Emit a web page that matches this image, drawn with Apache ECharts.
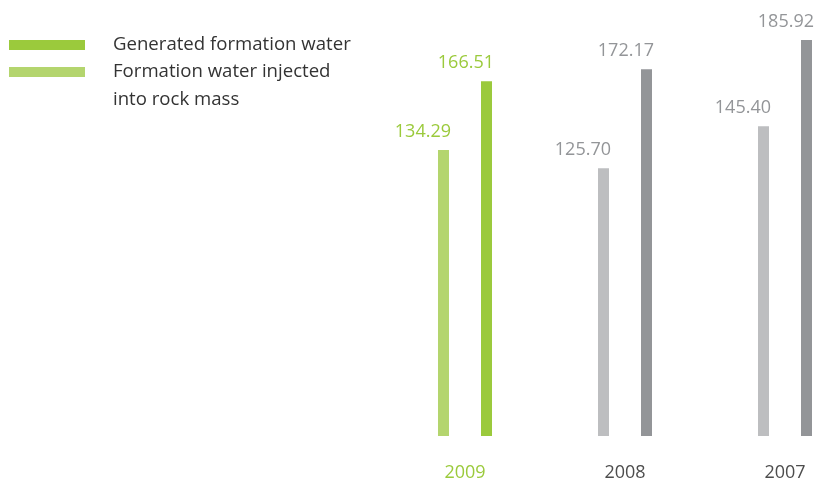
<!DOCTYPE html>
<html>
<head>
<meta charset="utf-8">
<script src="https://cdn.jsdelivr.net/npm/echarts@6/dist/echarts.min.js"></script>
<style>
  html, body { margin: 0; padding: 0; background: #ffffff; }
  #chart { width: 826px; height: 484px; }
</style>
</head>
<body>
<div id="chart"></div>
<script>
// Formation water volumes by year
const years = ['2009', '2008', '2007'];
const injected = [134.29, 125.70, 145.40];
const generated = [166.51, 172.17, 185.92];

const seriesNames = ['Generated formation water', 'Formation water injected\ninto rock mass'];

const GREEN = '#9bca3c';
const GREEN_LIGHT = '#b4d56e';
const GREY = '#939598';
const GREY_LIGHT = '#bdbec0';
const FONT = '"Open Sans", "Noto Sans", sans-serif';

// The current year is highlighted in green, earlier years in grey
function items(values, hiColor, loColor) {
  return values.map((v, i) => ({
    value: v,
    itemStyle: { color: i === 0 ? hiColor : loColor },
    label: { color: i === 0 ? GREEN : GREY }
  }));
}

const chart = echarts.init(document.getElementById('chart'), null, { renderer: 'canvas' });

const valueLabel = {
  show: true,
  position: ['100%', 0],
  align: 'right',
  verticalAlign: 'bottom',
  offset: [2, -9],
  fontFamily: FONT,
  fontSize: 18,
  formatter: p => p.value.toFixed(2)
};

const legendBase = {
  left: 9,
  padding: 0,
  orient: 'vertical',
  icon: 'rect',
  itemWidth: 76,
  itemHeight: 10,
  itemGap: 0,
  selectedMode: false
};

const legendText = { fontFamily: FONT, fontSize: 18.6, color: '#333333', lineHeight: 28, padding: [0, 0, 0, 23] };

chart.setOption({
  backgroundColor: '#ffffff',
  animation: false,
  legend: [
    Object.assign({}, legendBase, {
      data: [seriesNames[0]],
      top: 31,
      textStyle: legendText
    }),
    Object.assign({}, legendBase, {
      data: [seriesNames[1]],
      top: 30,
      // a leading blank line keeps the first text line level with the swatch
      formatter: name => '\n' + name,
      textStyle: legendText
    })
  ],
  grid: { left: 465, right: 41, top: 10, bottom: 48, containLabel: false },
  xAxis: {
    type: 'category',
    data: years,
    boundaryGap: false,
    axisLine: { show: false },
    axisTick: { show: false },
    axisLabel: {
      margin: 28,
      fontFamily: FONT,
      fontSize: 18,
      color: '#4d4d4d',
      formatter: v => v === years[0] ? '{hi|' + v + '}' : v,
      rich: { hi: { color: GREEN, fontFamily: FONT, fontSize: 18 } }
    }
  },
  yAxis: {
    type: 'value',
    min: 0,
    max: 200,
    show: false,
    splitLine: { show: false }
  },
  series: [
    {
      name: seriesNames[1],
      type: 'bar',
      barWidth: 11,
      barGap: '291%',
      itemStyle: { color: GREEN_LIGHT },
      label: valueLabel,
      data: items(injected, GREEN_LIGHT, GREY_LIGHT)
    },
    {
      name: seriesNames[0],
      type: 'bar',
      barWidth: 11,
      barGap: '291%',
      itemStyle: { color: GREEN },
      label: valueLabel,
      data: items(generated, GREEN, GREY)
    }
  ]
});
</script>
</body>
</html>
